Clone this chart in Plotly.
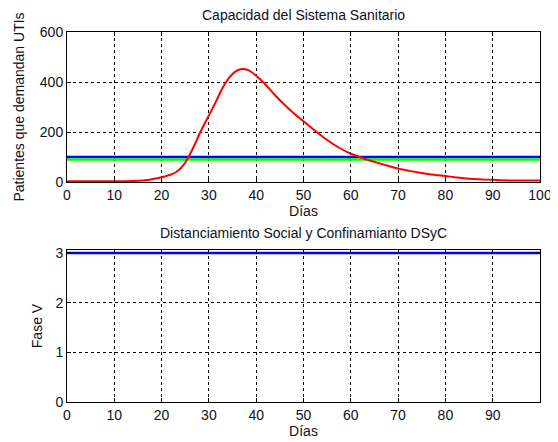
import plotly.graph_objects as go
from plotly.subplots import make_subplots

# Demand curve (patients requiring ICU)
days = [0, 5, 10, 14, 16, 17, 18, 19, 20, 21, 22, 23, 24, 25, 26, 27, 28, 29, 30,
        31, 32, 33, 34, 35, 36, 37, 38, 39, 40, 41, 42, 43, 44, 45, 46, 47, 48, 49,
        50, 52, 54, 56, 58, 60, 62, 64, 66, 68, 70, 72, 74, 76, 78, 80, 82, 84, 86,
        88, 90, 92, 95, 100]
patients = [3, 3, 3, 4, 6, 8, 11, 15, 19, 24, 30, 39, 54, 78, 111, 150, 192, 230, 266,
            303, 342, 380, 410, 432, 446, 452, 450, 440, 425, 408, 389, 368, 347, 327, 309, 291, 274, 258,
            243, 212, 182, 155, 132, 113, 99, 86, 75, 64, 54, 46, 39, 33, 28, 24, 19, 15, 12,
            10, 9, 7, 6, 6]

# Capacity lines
cap_days = [0, 100]
capacity_blue = [100, 100]
capacity_green = [90, 90]

# DSyC phase
phase_days = [0, 100]
phase = [3, 3]

x_ticks_top = [0, 10, 20, 30, 40, 50, 60, 70, 80, 90, 100]
x_ticks_bottom = [0, 10, 20, 30, 40, 50, 60, 70, 80, 90]
y_ticks_top = [0, 200, 400, 600]
y_ticks_bottom = [0, 1, 2, 3]

FONT = "Liberation Sans, Arial, sans-serif"
FS = 14

fig = make_subplots(rows=2, cols=1, vertical_spacing=0.0)

fig.add_trace(go.Scatter(x=cap_days, y=capacity_blue, mode="lines",
                         line=dict(color="#0000FF", width=2.5), showlegend=False), row=1, col=1)
fig.add_trace(go.Scatter(x=cap_days, y=capacity_green, mode="lines",
                         line=dict(color="#00FF00", width=2.5), showlegend=False), row=1, col=1)
fig.add_trace(go.Scatter(x=days, y=patients, mode="lines", line_shape="spline",
                         line=dict(color="#FF0000", width=2, smoothing=0.5), showlegend=False), row=1, col=1)
fig.add_trace(go.Scatter(x=phase_days, y=phase, mode="lines",
                         line=dict(color="#0000FF", width=2.5), showlegend=False), row=2, col=1)

axis_common = dict(
    showline=True, linecolor="black", linewidth=1, mirror="ticks",
    ticks="inside", ticklen=4, tickcolor="black", automargin=False,
    showgrid=True, gridcolor="black", gridwidth=1, griddash="3px,3px",
    zeroline=False, tickfont=dict(family=FONT, size=FS, color="#101020"),
)

# The page body adds an 8px offset, so the figure is 8px smaller and margins compensate.
fig.update_layout(
    width=550, height=434,
    margin=dict(l=59, r=18, t=24, b=40),
    paper_bgcolor="white", plot_bgcolor="white",
    font=dict(family=FONT, size=FS, color="#101020"),
    xaxis=dict(domain=[0, 1], range=[0, 100], tickvals=x_ticks_top,
               title=dict(text="Días", standoff=3, font=dict(size=FS)), **axis_common),
    yaxis=dict(domain=[0.5946, 1], range=[0, 600], tickvals=y_ticks_top,
               title=dict(text="Patientes que demandan UTIs", standoff=11, font=dict(size=FS)), **axis_common),
    xaxis2=dict(domain=[0, 1], range=[0, 100], tickvals=x_ticks_bottom,
                title=dict(text="Días", standoff=3, font=dict(size=FS)), **axis_common),
    yaxis2=dict(domain=[0, 0.4108], range=[0, 3.06], tickvals=y_ticks_bottom,
                title=dict(text="Fase V", standoff=9, font=dict(size=FS)), **axis_common),
    annotations=[
        dict(text="Capacidad del Sistema Sanitario", x=0.5, xref="paper", xanchor="center",
             y=1, yref="paper", yanchor="bottom", yshift=7, showarrow=False,
             font=dict(family=FONT, size=FS, color="#101020")),
        dict(text="Distanciamiento Social y Confinamianto DSyC", x=0.5, xref="paper", xanchor="center",
             y=0.4108, yref="paper", yanchor="bottom", yshift=7, showarrow=False,
             font=dict(family=FONT, size=FS, color="#101020")),
    ],
)

fig.write_html("out.html")
